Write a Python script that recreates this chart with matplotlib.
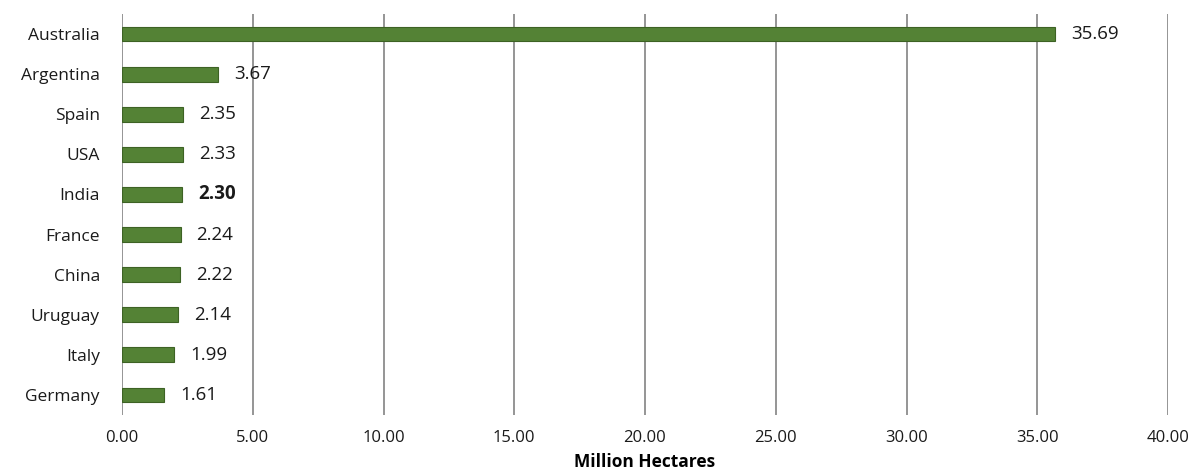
import matplotlib
matplotlib.use("Agg")
import matplotlib.pyplot as plt

countries = ["Australia", "Argentina", "Spain", "USA", "India",
             "France", "China", "Uruguay", "Italy", "Germany"]
hectares = [35.69, 3.67, 2.35, 2.33, 2.30, 2.24, 2.22, 2.14, 1.99, 1.61]
x_ticks = [0, 5, 10, 15, 20, 25, 30, 35, 40]

plt.rcParams['font.family'] = ['Open Sans', 'DejaVu Sans']

fig = plt.figure(figsize=(12.02, 4.69), dpi=100)
ax = fig.add_axes([122 / 1202, 1 - 415 / 469, (1168 - 122) / 1202, (415 - 14) / 469])

pos = list(range(len(countries)))
ax.barh(pos, hectares, height=0.37, color="#548235", edgecolor="#3d6224",
        linewidth=0.8, zorder=3)

ax.set_xlim(0, 40)
ax.set_ylim(len(countries) - 0.5, -0.5)
ax.set_xticks(x_ticks)
ax.set_xticklabels([f"{t:.2f}" for t in x_ticks], fontsize=12)
ax.set_yticks(pos)
ax.set_yticklabels(countries, fontsize=12.5)
ax.tick_params(axis="both", length=0, colors="#1a1a1a")
ax.tick_params(axis="x", pad=11)
ax.tick_params(axis="y", pad=16)

ax.grid(axis="x", color="#8c8c8c", linewidth=1.3, zorder=0)
for s in ax.spines.values():
    s.set_visible(False)

for i, v in enumerate(hectares):
    ax.annotate(f"{v:.2f}", xy=(v, i), xytext=(11.5, 0), textcoords="offset points",
                va="center", ha="left", fontsize=13.5, color="#1a1a1a",
                fontweight="bold" if countries[i] == "India" else "normal")

ax.set_xlabel("Million Hectares", fontsize=12.5, fontweight="bold", labelpad=5)

fig.savefig("out.png", dpi=100)
